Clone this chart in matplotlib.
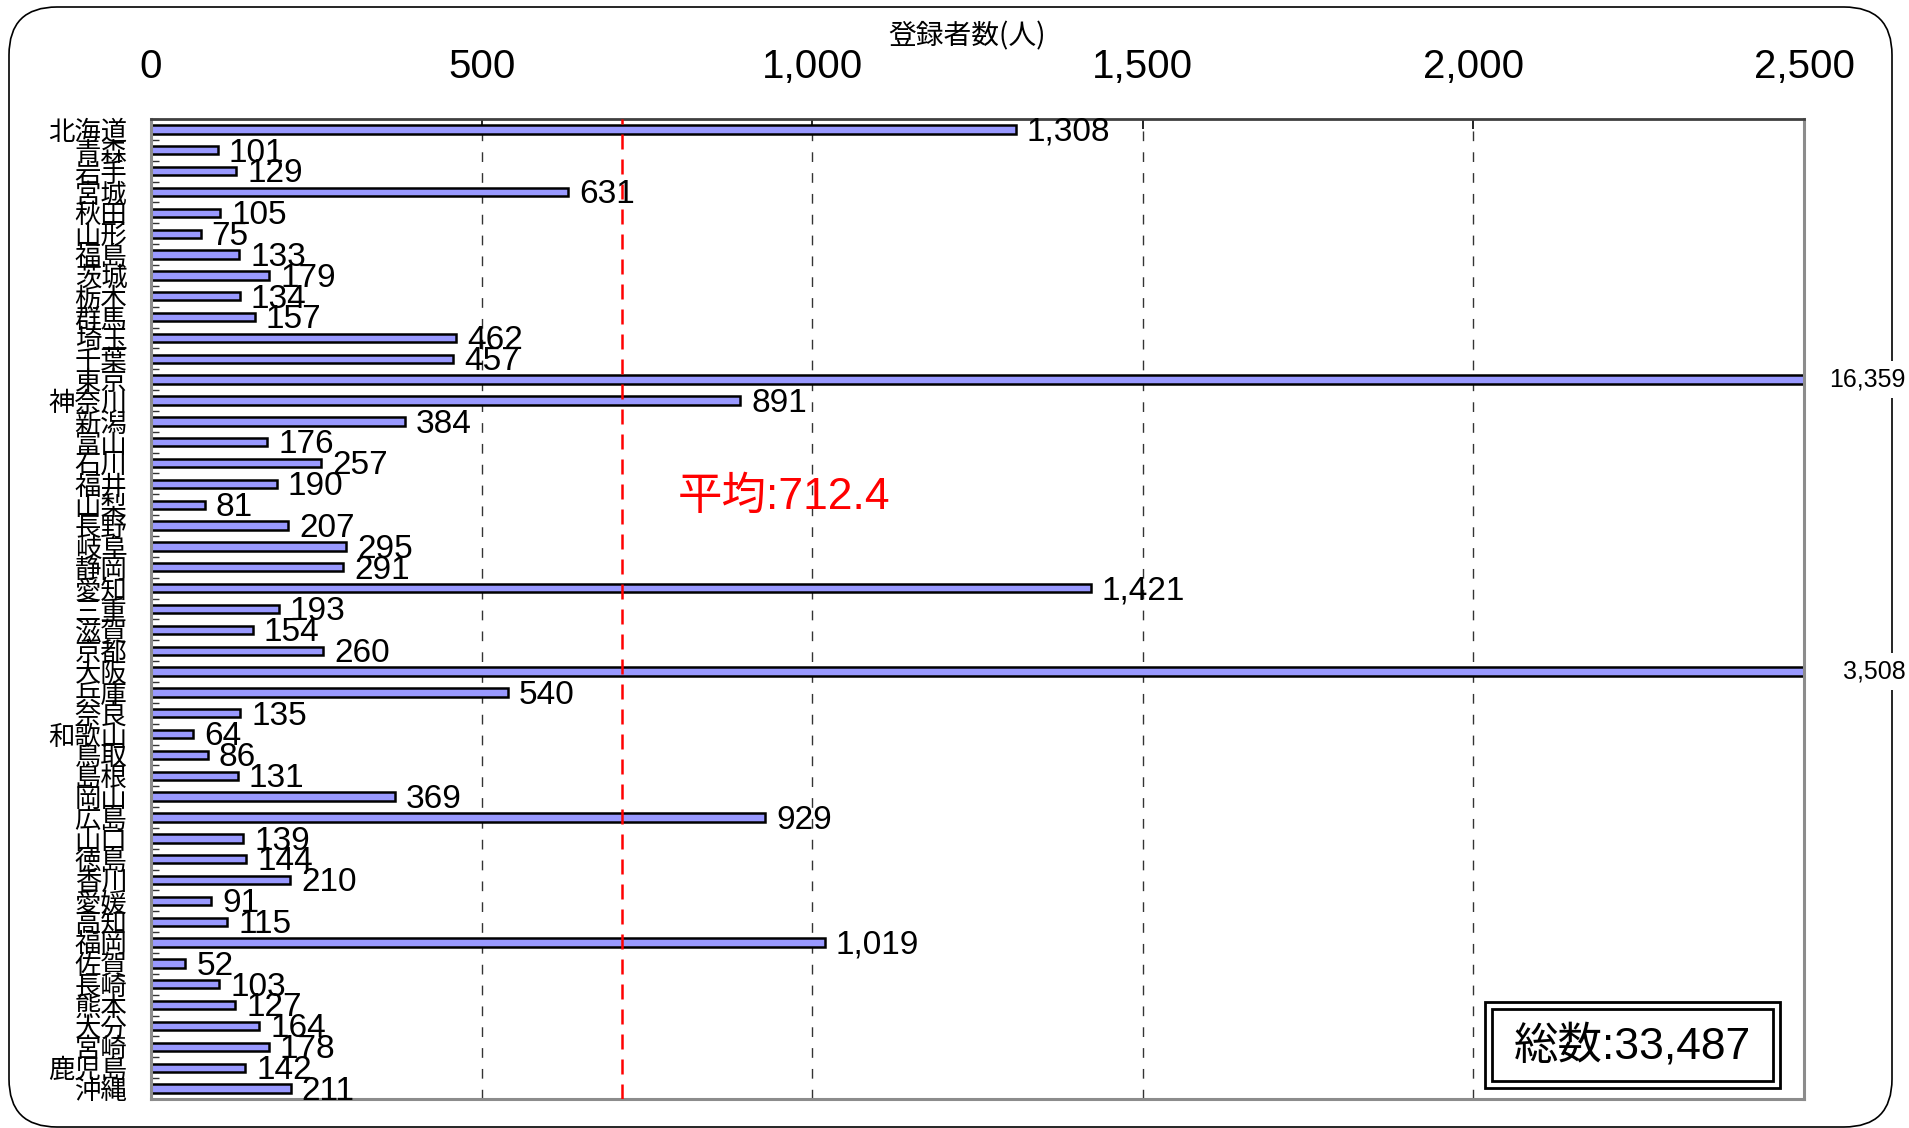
import numpy as np
import matplotlib
matplotlib.use("Agg")
import matplotlib.pyplot as plt
from matplotlib.patches import FancyBboxPatch, Rectangle
from matplotlib.ticker import FuncFormatter
from matplotlib.transforms import IdentityTransform

plt.rcParams['font.family'] = ['Liberation Sans', 'Noto Sans CJK JP', 'DejaVu Sans']

# 都道府県別の登録者数
prefectures = [
    "北海道", "青森", "岩手", "宮城", "秋田", "山形", "福島", "茨城", "栃木", "群馬",
    "埼玉", "千葉", "東京", "神奈川", "新潟", "富山", "石川", "福井", "山梨", "長野",
    "岐阜", "静岡", "愛知", "三重", "滋賀", "京都", "大阪", "兵庫", "奈良", "和歌山",
    "鳥取", "島根", "岡山", "広島", "山口", "徳島", "香川", "愛媛", "高知", "福岡",
    "佐賀", "長崎", "熊本", "大分", "宮崎", "鹿児島", "沖縄",
]
counts = [
    1308, 101, 129, 631, 105, 75, 133, 179, 134, 157,
    462, 457, 16359, 891, 384, 176, 257, 190, 81, 207,
    295, 291, 1421, 193, 154, 260, 3508, 540, 135, 64,
    86, 131, 369, 929, 139, 144, 210, 91, 115, 1019,
    52, 103, 127, 164, 178, 142, 211,
]
x_ticks = [0, 500, 1000, 1500, 2000, 2500]
mean_value = 712.4
x_max = 2500

W, H = 1909, 1128
fig = plt.figure(figsize=(W / 100, H / 100), dpi=100)
ax = fig.add_axes([151 / W, 1 - 1099 / H, (1804 - 151) / W, (1099 - 119) / H])

rows = np.arange(len(prefectures))
ax.barh(rows, counts, height=0.4, color='#9999ff', edgecolor='black', linewidth=1.8, zorder=2)

ax.set_xlim(0, x_max)
ax.set_ylim(len(prefectures) - 0.5, -0.5)

# grid + mean line
for t in x_ticks[1:-1]:
    ax.axvline(t, color='#333333', lw=1.0, ls=(0, (7, 8)), zorder=1)
ax.axvline(mean_value, color='red', lw=1.8, ls=(0, (6, 4)), zorder=3)

# axis setup
ax.xaxis.tick_top()
ax.set_xticks(x_ticks)
ax.xaxis.set_major_formatter(FuncFormatter(lambda v, p: f"{v:,.0f}"))
ax.tick_params(axis='x', direction='in', length=7, width=1.2, pad=24, labelsize=29)

ax.set_yticks(rows)
ax.set_yticklabels(prefectures, fontfamily=['Noto Sans CJK JP'], fontsize=19)
ax.set_yticks(np.arange(-0.5, len(prefectures), 1), minor=True)
ax.tick_params(axis='y', which='major', length=0, pad=17)
ax.tick_params(axis='y', which='minor', direction='in', length=6, width=1, color='#333333')

ax.spines['top'].set_color('#404040')
ax.spines['top'].set_linewidth(2)
for s in ['left', 'right', 'bottom']:
    ax.spines[s].set_color('#8c8c8c')
    ax.spines[s].set_linewidth(2.2)

# value labels
for r, v in zip(rows, counts):
    if v <= x_max:
        ax.annotate(f"{v:,}", xy=(v, r), xytext=(8, -2), textcoords='offset points',
                    ha='left', va='center', fontsize=24)
    else:
        ax.annotate(f"{v:,}", xy=(1, r), xycoords=('axes fraction', 'data'),
                    xytext=(73, 0), textcoords='offset points', ha='right', va='center',
                    fontsize=18, annotation_clip=False,
                    bbox=dict(boxstyle='square,pad=0.25', fc='white', ec='none'))

ax.text((678 - 151) / (1804 - 151), 1 - (497 - 119) / (1099 - 119), f"平均:{mean_value}",
        transform=ax.transAxes, color='red', fontsize=32, ha='left', va='center')

fig.text(967 / W, 1 - 36 / H, "登録者数(人)", fontsize=20, ha='center', va='center',
         fontfamily=['Noto Sans CJK JP'])

# total box (double border)
fig.patches.append(Rectangle((1485 / W, 1 - 1088 / H), 295 / W, 86 / H,
                             transform=fig.transFigure, fill=False, ec='black', lw=2))
fig.patches.append(Rectangle((1492 / W, 1 - 1081 / H), 281 / W, 72 / H,
                             transform=fig.transFigure, fill=False, ec='black', lw=2))
fig.text(1632 / W, 1 - 1046 / H, f"総数:{sum(counts):,}", fontsize=32, ha='center', va='center')

# rounded outer frame
frame = FancyBboxPatch((9, 1), 1883, 1120, boxstyle='round,pad=0,rounding_size=48',
                       transform=IdentityTransform(), fill=False, ec='black', lw=1.2, zorder=-1)
fig.patches.append(frame)

fig.savefig("out.png", dpi=100, facecolor='white')
